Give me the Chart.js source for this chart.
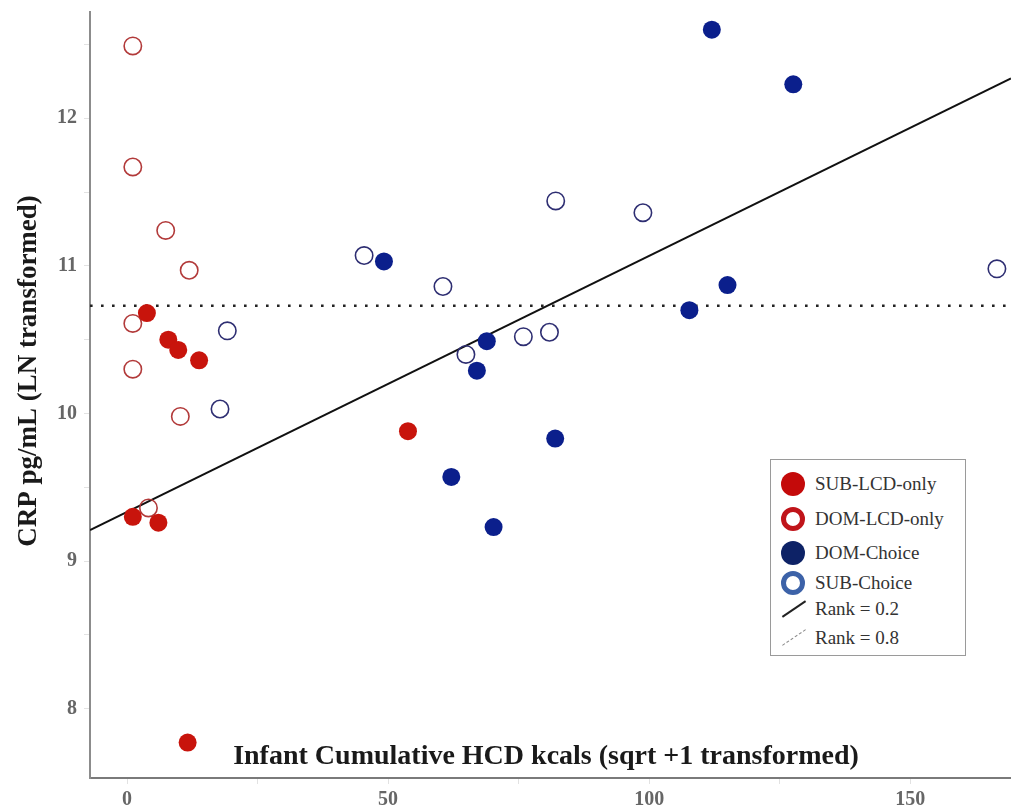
<!DOCTYPE html>
<html>
<head>
<meta charset="utf-8">
<script src="https://cdn.jsdelivr.net/npm/chart.js@4/dist/chart.umd.min.js"></script>
<style>
  body { margin: 0; background: #fff; }
  #wrap { position: relative; width: 1011px; height: 812px; }
  #legend {
    position: absolute; left: 770px; top: 459px; width: 194px; height: 195px;
    border: 1px solid #9a9a9a; background: #fff;
    font-family: "Liberation Serif", "Times New Roman", serif; font-size: 19px; color: #333;
  }
  .row { position: absolute; left: 0; height: 24px; line-height: 24px; }
  .row span.t { position: absolute; left: 44px; white-space: nowrap; }
  .m { position: absolute; left: 10px; top: 0; width: 24px; height: 24px; border-radius: 50%; box-sizing: border-box; }
  .ln { position: absolute; left: 9px; top: 11px; width: 28px; height: 0; transform: rotate(-34deg); }
</style>
</head>
<body>
<div id="wrap">
  <canvas id="chart"></canvas>
  <div id="legend"></div>
</div>
<script>
  // Daten
  const subLcdX = [3.8, 7.9, 9.8, 13.8, 1.1, 6.0, 11.6, 53.8];
  const subLcdY = [10.68, 10.50, 10.43, 10.36, 9.30, 9.26, 7.77, 9.88];

  const domLcdX = [1.1, 1.1, 7.4, 11.9, 1.1, 1.1, 10.2, 4.1];
  const domLcdY = [12.49, 11.67, 11.24, 10.97, 10.61, 10.30, 9.98, 9.36];

  const domChoiceX = [49.2, 68.9, 67.0, 62.1, 70.2, 82.0, 112.0, 127.6, 107.7, 115.0];
  const domChoiceY = [11.03, 10.49, 10.29, 9.57, 9.23, 9.83, 12.60, 12.23, 10.70, 10.87];

  const subChoiceX = [45.4, 60.5, 19.2, 17.8, 64.9, 75.9, 80.9, 82.1, 98.8, 166.6];
  const subChoiceY = [11.07, 10.86, 10.56, 10.03, 10.40, 10.52, 10.55, 11.44, 11.36, 10.98];

  // Regressionslinien (Endpunkte)
  const rank02X = [-7.1, 169.3];
  const rank02Y = [9.21, 12.27];
  const rank08X = [-7.1, 169.3];
  const rank08Y = [10.73, 10.73];

  const legendLabels = ['SUB-LCD-only', 'DOM-LCD-only', 'DOM-Choice', 'SUB-Choice', 'Rank = 0.2', 'Rank = 0.8'];
  const xTitle = 'Infant Cumulative HCD kcals (sqrt +1 transformed)';
  const yTitle = 'CRP pg/mL (LN transformed)';

  const pts = (xs, ys) => xs.map((x, i) => ({ x, y: ys[i] }));
  const serif = '"Liberation Serif", "Times New Roman", serif';

  // Achsentitel liegen im Original innerhalb der Grafik
  const titlePlugin = {
    id: 'titles',
    afterDraw(chart) {
      const ctx = chart.ctx;
      ctx.save();
      ctx.fillStyle = '#1a1a1a';
      ctx.font = 'bold 28px ' + serif;
      ctx.textAlign = 'center';
      ctx.textBaseline = 'middle';
      ctx.fillText(xTitle, 546, 757);
      ctx.translate(29, 371);
      ctx.rotate(-Math.PI / 2);
      ctx.font = 'bold 27px ' + serif;
      ctx.fillText(yTitle, 0, 0);
      ctx.restore();
    }
  };

  new Chart(document.getElementById('chart'), {
    type: 'scatter',
    data: {
      datasets: [
        { label: legendLabels[0], data: pts(subLcdX, subLcdY), order: 0,
          pointRadius: 9, pointBorderWidth: 0, backgroundColor: '#c8140c', borderColor: '#c8140c' },
        { label: legendLabels[2], data: pts(domChoiceX, domChoiceY), order: 0,
          pointRadius: 9, pointBorderWidth: 0, backgroundColor: '#0b1f8c', borderColor: '#0b1f8c' },
        { label: legendLabels[1], data: pts(domLcdX, domLcdY), order: 1,
          pointRadius: 8.7, pointBorderWidth: 1.6, backgroundColor: 'rgba(255,255,255,0)', borderColor: '#b23a3a' },
        { label: legendLabels[3], data: pts(subChoiceX, subChoiceY), order: 1,
          pointRadius: 8.7, pointBorderWidth: 1.6, backgroundColor: 'rgba(255,255,255,0)', borderColor: '#2e2e72' },
        { label: legendLabels[4], data: pts(rank02X, rank02Y), order: 2, showLine: true,
          pointRadius: 0, borderColor: '#111', borderWidth: 2 },
        { label: legendLabels[5], data: pts(rank08X, rank08Y), order: 2, showLine: true,
          pointRadius: 0, borderColor: '#222', borderWidth: 2.6, borderDash: [2.6, 8.4] }
      ]
    },
    options: {
      responsive: true,
      maintainAspectRatio: false,
      animation: false,
      events: [],
      layout: { autoPadding: false, padding: { top: 12, right: 0, left: 0, bottom: 0 } },
      plugins: { legend: { display: false }, tooltip: { enabled: false } },
      scales: {
        x: {
          type: 'linear', min: -7.1, max: 169.3,
          border: { display: true, color: '#7a7a7a', width: 2 },
          grid: { drawOnChartArea: false, drawTicks: true, tickLength: 6, color: '#e2e2e2' },
          ticks: {
            stepSize: 25, includeBounds: false, padding: 4, color: '#666',
            font: { family: serif, size: 20, weight: 'bold' },
            callback: v => (v % 50 === 0 ? v : '')
          },
          afterFit: s => { s.height = 34; s.paddingLeft = 0; s.paddingRight = 0; }
        },
        y: {
          type: 'linear', min: 7.53, max: 12.72,
          border: { display: true, color: '#8c8c8c', width: 2 },
          grid: { drawOnChartArea: false, drawTicks: true, tickLength: 6, color: '#e2e2e2' },
          ticks: {
            stepSize: 0.5, includeBounds: false, padding: 7, color: '#666',
            font: { family: serif, size: 20, weight: 'bold' },
            callback: v => (Number.isInteger(v) ? v : '')
          },
          afterFit: s => { s.width = 90; s.paddingTop = 0; s.paddingBottom = 0; }
        }
      }
    },
    plugins: [titlePlugin]
  });

  // Legende als HTML
  const rowTops = [12, 47, 81, 111, 137, 166];
  const markers = [
    '<span class="m" style="background:#c40a0a"></span>',
    '<span class="m" style="border:5px solid #c0141a"></span>',
    '<span class="m" style="background:#0d2266"></span>',
    '<span class="m" style="border:5px solid #3c62a8"></span>',
    '<span class="ln" style="border-top:2px solid #222"></span>',
    '<span class="ln" style="border-top:1.5px dashed #888"></span>'
  ];
  const legend = document.getElementById('legend');
  legendLabels.forEach((lab, i) => {
    const row = document.createElement('div');
    row.className = 'row';
    row.style.top = rowTops[i] + 'px';
    row.innerHTML = markers[i] + '<span class="t">' + lab + '</span>';
    legend.appendChild(row);
  });
</script>
</body>
</html>
